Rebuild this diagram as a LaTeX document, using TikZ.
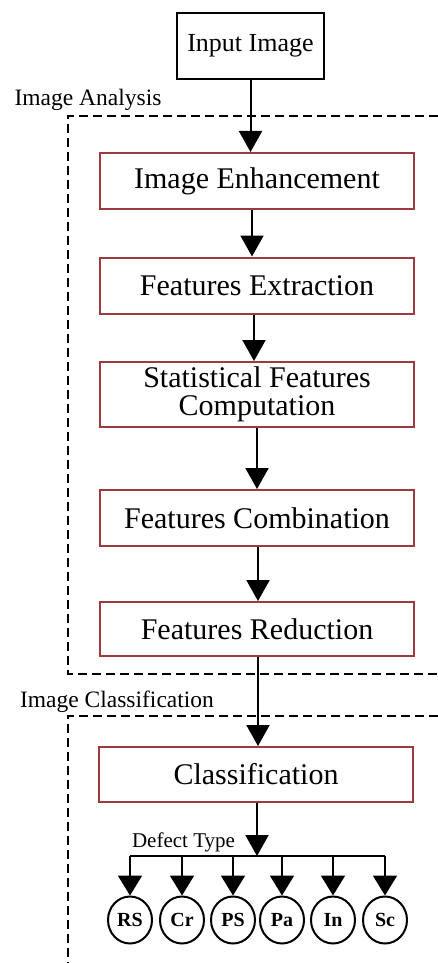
\documentclass[tikz,border=0pt]{standalone}
\usepackage{fontspec}
\setmainfont{Liberation Serif}
\usetikzlibrary{arrows.meta,shapes.geometric}
\definecolor{boxred}{RGB}{155,58,63}
\begin{document}
\begin{tikzpicture}[x=1pt,y=-1pt,
  inbox/.style={draw=black,line width=2pt,minimum width=147pt,minimum height=66pt,inner sep=0pt,font=\fontsize{26}{28}\selectfont},
  proc/.style={draw=boxred,line width=2pt,minimum width=314pt,minimum height=56pt,inner sep=0pt,align=center,font=\fontsize{30}{28.5}\selectfont},
  grplabel/.style={inner sep=0pt,font=\fontsize{23.5}{25}\selectfont},
  region/.style={draw=black,line width=2pt,dash pattern=on 9pt off 5pt},
  flow/.style={draw=black,line width=2pt,-{Triangle[length=21pt,width=23pt]}},
  branch/.style={draw=black,line width=2pt,-{Triangle[length=20pt,width=24pt]}},
  dtype/.style={ellipse,draw=black,line width=2pt,minimum width=44pt,minimum height=47pt,inner sep=0pt,font=\bfseries\fontsize{20}{22}\selectfont}]
\useasboundingbox (0,0) rectangle (438,963);

% dashed regions
\draw[region] (438,116) -- (68,116) -- (68,674) -- (438,674);
\draw[region] (438,716) -- (68,716) -- (68,963);
\node[grplabel] (lana) at (88,100) {Image Analysis};
\node[grplabel] (lcls) at (117,702) {Image Classification};

% processing chain
\node[inbox] (input) at (250.5,46) {Input Image};
\node[proc] (enh) at (257,181) {Image Enhancement};
\node[proc] (feat) at (257,285.5) {Features Extraction};
\node[proc,minimum height=65pt] (stat) at (257,394.5) {Statistical Features\\Computation};
\node[proc] (comb) at (257,518) {Features Combination};
\node[proc,minimum height=54pt] (red) at (257,629) {Features Reduction};
\node[proc,minimum height=55pt] (class) at (256,774.5) {Classification};

\draw[flow] (input.south) -- (input.south |- enh.north);
\draw[flow] ([xshift=-5pt]enh.south) -- ([xshift=-5pt]feat.north);
\draw[flow] ([xshift=-3pt]feat.south) -- ([xshift=-3pt]stat.north);
\draw[flow] (stat.south) -- (comb.north);
\draw[flow] ([xshift=1pt]comb.south) -- ([xshift=1pt]red.north);
\draw[flow] ([xshift=1pt]red.south) -- ([xshift=2pt]class.north);

% defect types
\node[dtype] (rs) at (130,920) {RS};
\node[dtype] (cr) at (182,920) {Cr};
\node[dtype] (ps) at (233,920) {PS};
\node[dtype] (pa) at (282,920) {Pa};
\node[dtype] (in) at (333,920) {In};
\node[dtype] (sc) at (385,920) {Sc};

\coordinate (bar) at (257,856);
\node[inner sep=0pt,font=\fontsize{21}{23}\selectfont] (dlab) at (183.5,842) {Defect Type};
\draw[flow] ([xshift=1pt]class.south) -- (bar);
\draw[line width=2pt] (rs |- bar) -- (sc |- bar);
\foreach \t in {rs,cr,ps,pa,in,sc}
  \draw[branch] (\t |- bar) -- (\t.north);
\end{tikzpicture}
\end{document}
